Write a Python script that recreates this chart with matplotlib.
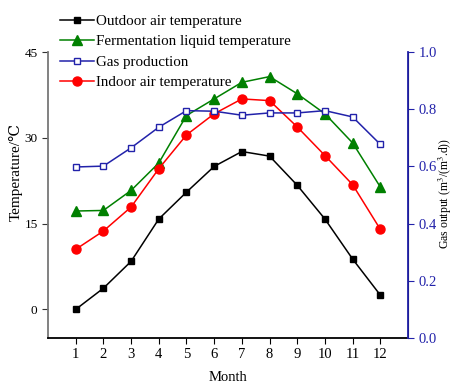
import matplotlib
matplotlib.use("Agg")
import matplotlib.pyplot as plt

plt.rcParams['font.family'] = ['Liberation Serif', 'DejaVu Serif']
plt.rcParams['mathtext.fontset'] = 'stix'

# monthly data
month = [1, 2, 3, 4, 5, 6, 7, 8, 9, 10, 11, 12]
outdoor = [0.0, 3.7, 8.4, 15.8, 20.5, 25.0, 27.6, 26.8, 21.7, 15.8, 8.8, 2.5]
ferment = [17.2, 17.3, 20.8, 25.6, 33.9, 36.8, 39.7, 40.7, 37.7, 34.2, 29.1, 21.4]
indoor = [10.5, 13.7, 17.9, 24.6, 30.5, 34.2, 36.8, 36.5, 31.9, 26.9, 21.8, 14.0]
gas = [0.598, 0.601, 0.665, 0.737, 0.795, 0.793, 0.779, 0.787, 0.787, 0.795, 0.773, 0.677]

blue = '#2222aa'

fig = plt.figure(figsize=(4.53, 3.83), dpi=100)
ax = fig.add_axes([0.106, 0.1175, 0.7947, 0.7467])
ax2 = ax.twinx()

l1, = ax.plot(month, outdoor, color='black', marker='s', ms=5, lw=1.1,
              label='Outdoor air temperature')
l2, = ax.plot(month, ferment, color='green', marker='^', ms=6.5, lw=1.1,
              label='Fermentation liquid temperature')
l3, = ax2.plot(month, gas, color=blue, marker='s', ms=5, mfc='white', mew=1.0, lw=1.1,
               label='Gas production')
l4, = ax.plot(month, indoor, color='red', marker='o', ms=6.5, lw=1.1,
              label='Indoor air temperature')

ax.set_xlim(0, 13)
ax.set_ylim(-5, 45)
ax.set_xticks(month)
ax.set_yticks([0, 15, 30, 45])
ax2.set_ylim(0, 1.0)
ax2.set_yticks([0.0, 0.2, 0.4, 0.6, 0.8, 1.0])
ax2.set_yticklabels(['0.0', '0.2', '0.4', '0.6', '0.8', '1.0'])

for a in (ax, ax2):
    a.spines['top'].set_visible(False)
ax.spines['left'].set_color('#777777')
ax.spines['left'].set_linewidth(1.3)
ax.spines['bottom'].set_linewidth(1.3)
ax2.spines['left'].set_visible(False)
ax2.spines['bottom'].set_visible(False)
ax2.spines['right'].set_color(blue)
ax2.spines['right'].set_linewidth(1.3)

ax.tick_params(axis='both', direction='out', labelsize=10.5, length=4)
ax.tick_params(axis='y', colors='#333333', labelcolor='black', labelsize=9.5)
ax2.tick_params(axis='y', direction='out', colors=blue, labelsize=10.5, length=4)

ax.set_xlabel('Month', fontsize=10.5)
ax.xaxis.set_label_coords(0.5, -0.115)
ax.set_ylabel('Temperature/℃', fontsize=11)
ax.yaxis.set_label_coords(-0.069, 0.58)
ax2.set_ylabel('Gas output (m$^3$/(m$^3$.d))', fontsize=8.5)
ax2.yaxis.set_label_coords(1.081, 0.505)

fig.legend(handles=[l1, l2, l3, l4], loc='upper left',
           bbox_to_anchor=(0.109, 0.99), frameon=False, fontsize=10.8,
           handlelength=2.3, handletextpad=0.1, labelspacing=0.47,
           borderaxespad=0.3)

fig.savefig('out.png', dpi=100)
